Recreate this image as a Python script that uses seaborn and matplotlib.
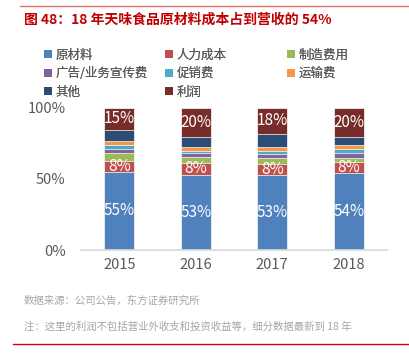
import matplotlib
matplotlib.use("Agg")
import matplotlib.pyplot as plt
from matplotlib.patches import Patch
import numpy as np
import pandas as pd
import seaborn as sns

sns.set_theme(style="white")
plt.rcParams['font.family'] = ['Noto Sans CJK SC', 'DejaVu Sans']
plt.rcParams['axes.unicode_minus'] = False

# 数据 (单位: %)
years = ["2015", "2016", "2017", "2018"]
categories = ["原材料", "人力成本", "制造费用", "广告/业务宣传费", "促销费", "运输费", "其他", "利润"]
raw_material = [55.0, 53.0, 52.6, 54.0]
labor = [8.0, 8.2, 8.0, 7.8]
manufacturing = [5.2, 4.2, 4.5, 3.3]
advertising = [2.8, 2.6, 2.6, 3.0]
promotion = [3.0, 1.9, 2.1, 3.0]
transport = [2.6, 2.8, 2.6, 3.0]
others = [8.0, 6.8, 9.4, 5.6]
profit = [15.4, 20.5, 18.2, 20.3]

colors = ["#4F81BD", "#C0504D", "#9BBB59", "#8064A2", "#4BACC6", "#F79646", "#2C4D75", "#772C2A"]

series = [raw_material, labor, manufacturing, advertising, promotion, transport, others, profit]
df = pd.DataFrame({c: s for c, s in zip(categories, series)}, index=years)
cum = df.cumsum(axis=1) / 100.0

fig = plt.figure(figsize=(4.09, 3.57), dpi=100)
ax = fig.add_axes([0.198, 0.2997, 0.748, 0.3978])

# 堆叠柱: 从最上层开始画累计高度
for cat, col in reversed(list(zip(categories, colors))):
    sns.barplot(x=years, y=cum[cat].values, color=col, width=0.39, ax=ax,
                edgecolor="white", linewidth=0.5, saturation=1)

# 数据标签: 原材料, 人力成本, 利润
for i, y in enumerate(years):
    for cat in ["原材料", "人力成本", "利润"]:
        top = cum.loc[y, cat]
        h = df.loc[y, cat] / 100.0
        ax.text(i, top - h / 2, f"{df.loc[y, cat]:.0f}%", ha="center", va="center",
                color="white", fontsize=11)

ax.set_ylim(0, 1)
ax.set_xlim(-0.5, 3.5)
ax.set_yticks([0, 0.5, 1.0])
ax.set_yticklabels(["0%", "50%", "100%"])
ax.tick_params(axis="y", colors="#595959", labelsize=10.5, length=0, pad=11)
ax.tick_params(axis="x", colors="#595959", labelsize=10.5, length=0, pad=6)
sns.despine(ax=ax, left=True)
ax.spines["bottom"].set_color("#D9D9D9")
ax.set_xlabel("")
ax.set_ylabel("")

# 图例: 三列等宽, 每列单独放置
legend_cols = [[0, 3, 6], [1, 4, 7], [2, 5]]
col_x = [0.108, 0.404, 0.702]
for idx, xpos in zip(legend_cols, col_x):
    handles = [Patch(facecolor=colors[k], edgecolor="none", label=categories[k]) for k in idx]
    leg = fig.legend(handles=handles, ncol=1, loc="upper left", bbox_to_anchor=(xpos, 0.864),
                     frameon=False, fontsize=9, handlelength=0.6, handleheight=0.6,
                     handletextpad=0.3, labelspacing=0.45, borderpad=0, borderaxespad=0,
                     labelcolor="#595959")
    fig.add_artist(leg)

# 标题与注释
fig.text(0.058, 0.944, "图 48：18 年天味食品原材料成本占到营收的 54%", color="#C00000",
         fontsize=10, fontweight="bold", va="center")
fig.text(0.058, 0.157, "数据来源：公司公告，东方证券研究所", color="#A6A6A6",
         fontsize=7.5, va="center")
fig.text(0.058, 0.085, "注：这里的利润不包括营业外收支和投资收益等，细分数据最新到 18 年",
         color="#A6A6A6", fontsize=7.5, va="center")

fig.add_artist(plt.Line2D([0.05, 1.0], [0.983, 0.983], color="#E36C6C", linewidth=1))
fig.add_artist(plt.Line2D([0.032, 1.0], [0.036, 0.036], color="#D00000", linewidth=1))

fig.savefig("out.png", dpi=100)
